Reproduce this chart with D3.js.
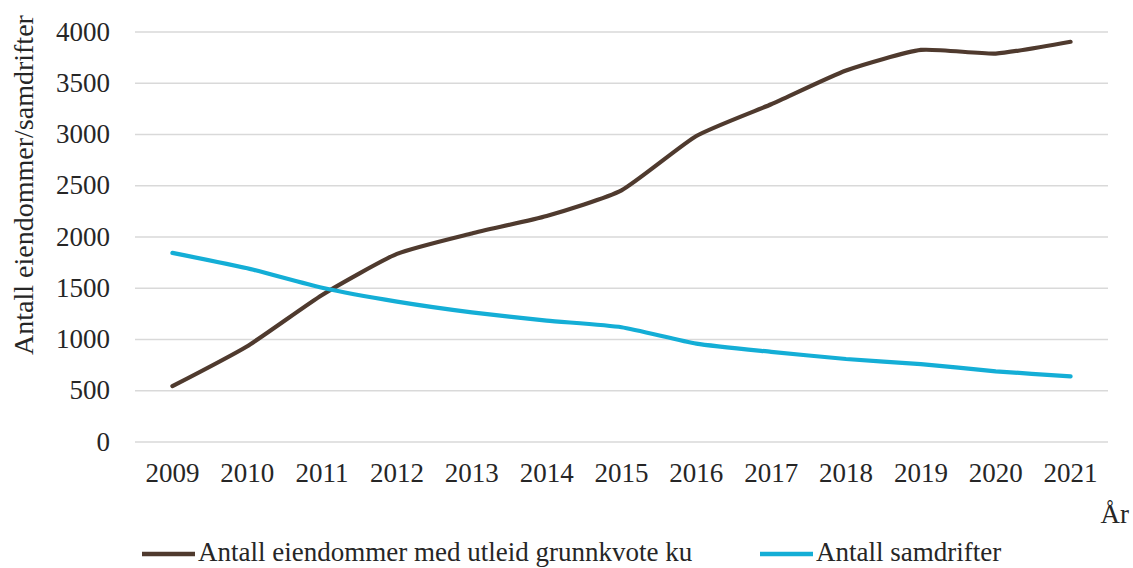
<!DOCTYPE html>
<html>
<head>
<meta charset="utf-8">
<script src="https://cdn.jsdelivr.net/npm/d3@7/dist/d3.min.js"></script>
<style>
  html, body { margin: 0; padding: 0; background: #ffffff; }
  svg { display: block; }
  text { font-family: "Liberation Serif", "Times New Roman", serif; fill: #262626; }
</style>
</head>
<body>
<svg id="chart" width="1133" height="568"></svg>
<script>
const years = ["2009","2010","2011","2012","2013","2014","2015","2016","2017","2018","2019","2020","2021"];
const eiendommer = [540, 930, 1430, 1830, 2030, 2200, 2450, 2980, 3290, 3620, 3820, 3785, 3900];
const samdrifter = [1840, 1690, 1500, 1365, 1260, 1180, 1115, 955, 875, 805, 755, 685, 635];
const yTicks = [0, 500, 1000, 1500, 2000, 2500, 3000, 3500, 4000];
const seriesNames = ["Antall eiendommer med utleid grunnkvote ku", "Antall samdrifter"];
const seriesColors = ["#4f3a2e", "#14aed6"];
const yTitle = "Antall eiendommer/samdrifter";
const xTitle = "År";

const FONT = '"Liberation Serif", "Times New Roman", serif';
const FS = 27;

const svg = d3.select("#chart");
const plot = { left: 135, right: 1108, top: 31.5, bottom: 441.5 };

const x = d3.scaleBand().domain(years).range([plot.left, plot.right]).paddingInner(0).paddingOuter(0);
const y = d3.scaleLinear().domain([0, 4000]).range([plot.bottom, plot.top]);

// gridlines
const grid = d3.axisLeft(y).tickValues(yTicks).tickSize(-(plot.right - plot.left)).tickFormat("");
svg.append("g")
  .attr("transform", `translate(${plot.left},0)`)
  .call(grid)
  .call(g => g.select(".domain").remove())
  .call(g => g.selectAll("line").attr("stroke", "#d9d9d9").attr("stroke-width", 1.6));

// y tick labels
svg.append("g")
  .attr("transform", `translate(${plot.left},0)`)
  .call(d3.axisLeft(y).tickValues(yTicks).tickSize(0).tickPadding(25).tickFormat(d3.format("d")))
  .call(g => g.select(".domain").remove())
  .call(g => g.selectAll("text")
    .style("font-family", FONT)
    .attr("font-size", FS)
    .attr("fill", "#262626"));

// x tick labels
svg.append("g")
  .attr("transform", `translate(0,${plot.bottom})`)
  .call(d3.axisBottom(x).tickSize(0).tickPadding(21))
  .call(g => g.select(".domain").remove())
  .call(g => g.selectAll("text")
    .style("font-family", FONT)
    .attr("font-size", FS)
    .attr("fill", "#262626"));

const cx = d => x(d) + x.bandwidth() / 2;
const line = d3.line()
  .x((d, i) => cx(years[i]))
  .y(d => y(d))
  .curve(d3.curveCardinal.tension(0.45));

[eiendommer, samdrifter].forEach((vals, k) => {
  svg.append("path")
    .datum(vals)
    .attr("d", line)
    .attr("fill", "none")
    .attr("stroke", seriesColors[k])
    .attr("stroke-width", 4.2)
    .attr("stroke-linecap", "round")
    .attr("stroke-linejoin", "round");
});

// y-axis title
svg.append("text")
  .attr("transform", `translate(33,185) rotate(-90)`)
  .attr("text-anchor", "middle")
  .style("font-family", FONT)
  .attr("font-size", 28)
  .text(yTitle);

// x-axis title
svg.append("text")
  .attr("x", 1129)
  .attr("y", 523)
  .attr("text-anchor", "end")
  .style("font-family", FONT)
  .attr("font-size", FS)
  .text(xTitle);

// legend
const legendX = [142, 760];
seriesNames.forEach((name, k) => {
  const g = svg.append("g").attr("transform", `translate(${legendX[k]},554)`);
  g.append("line")
    .attr("x1", 0).attr("x2", 53)
    .attr("y1", 0).attr("y2", 0)
    .attr("stroke", seriesColors[k])
    .attr("stroke-width", 4.5);
  g.append("text")
    .attr("x", 56)
    .attr("y", 7)
    .style("font-family", FONT)
    .attr("font-size", FS)
    .text(name);
});
</script>
</body>
</html>
